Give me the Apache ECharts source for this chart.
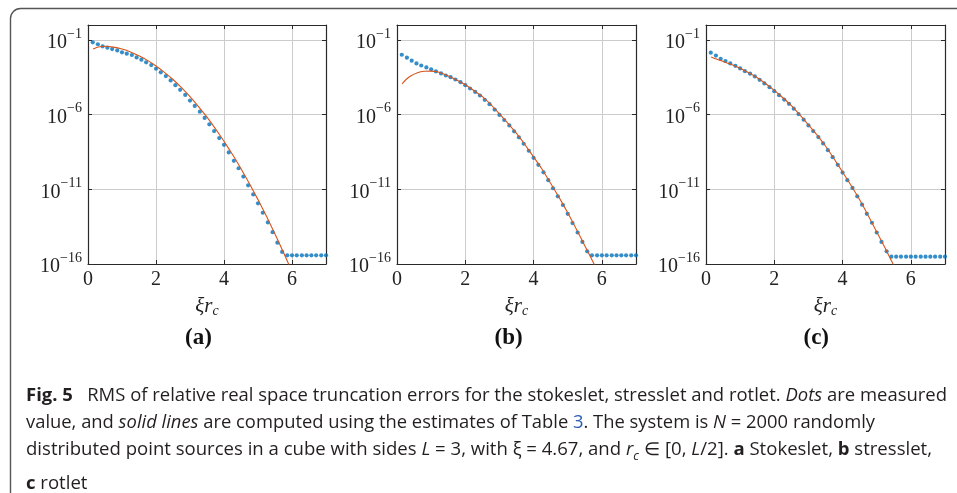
<!DOCTYPE html>
<html>
<head>
<meta charset="utf-8">
<script src="https://cdn.jsdelivr.net/npm/echarts@6/dist/echarts.min.js"></script>
<style>
  html, body { margin: 0; padding: 0; background: #fff; }
  #wrap { position: relative; width: 957px; height: 493px; overflow: hidden; }
  #chart { position: absolute; left: 0; top: 0; width: 957px; height: 493px; }
  #cap {
    position: absolute; left: 26px; top: 381px;
    font-family: "Open Sans", "Noto Sans", sans-serif; font-size: 18px;
    line-height: 27px; color: #231f20; white-space: nowrap;
  }
  #cap .ln { transform-origin: 0 50%; width: max-content; }
  #cap b { font-weight: 700; }
  #cap .lnk { color: #2c5cb8; }
</style>
</head>
<body>
<div id="wrap">
  <div id="chart"></div>
  <div id="cap">
    <div class="ln"><b>Fig. 5</b>&nbsp;&nbsp; RMS of relative real space truncation errors for the stokeslet, stresslet and rotlet. <i>Dots</i> are measured</div>
    <div class="ln">value, and <i>solid lines</i> are computed using the estimates of Table <span class="lnk">3</span>. The system is <i>N</i> = 2000 randomly</div>
    <div class="ln">distributed point sources in a cube with sides <i>L</i> = 3, with ξ = 4.67, and <i>r<sub style="font-size:12px">c</sub></i> ∈ [0, <i>L</i>/2]. <b>a</b> Stokeslet, <b>b</b> stresslet,</div>
    <div class="ln"><b>c</b> rotlet</div>
  </div>
</div>
<script>
// x positions of the measured dots (xi * r_c)
var dotX = [0.14, 0.29, 0.43, 0.57, 0.71, 0.86, 1.0, 1.14, 1.29, 1.43, 1.57, 1.71, 1.86, 2.0,
  2.14, 2.29, 2.43, 2.57, 2.71, 2.86, 3.0, 3.14, 3.29, 3.43, 3.57, 3.71, 3.86, 4.0,
  4.14, 4.29, 4.43, 4.57, 4.71, 4.86, 5.0, 5.14, 5.29, 5.43, 5.57, 5.71, 5.86, 6.0,
  6.14, 6.29, 6.43, 6.57, 6.71, 6.86, 7.0];

// values are stored as log10 exponents
var stokesDots = [-1.16, -1.29, -1.43, -1.52, -1.61, -1.70, -1.83, -1.92, -2.01, -2.17, -2.32, -2.50,
  -2.68, -2.93, -3.17, -3.42, -3.71, -4.03, -4.34, -4.68, -5.06, -5.42, -5.80, -6.22, -6.65,
  -7.10, -7.57, -8.02, -8.53, -9.09, -9.59, -10.15, -10.73, -11.34, -11.94, -12.57, -13.22,
  -13.87, -14.57, -15.19, -15.42, -15.42, -15.42, -15.42, -15.42, -15.42, -15.42, -15.42, -15.42];
var stressDots = [-1.99, -2.19, -2.39, -2.57, -2.71, -2.84, -2.97, -3.11, -3.24, -3.38, -3.49, -3.65,
  -3.83, -4.03, -4.25, -4.48, -4.72, -5.01, -5.30, -5.66, -6.02, -6.36, -6.72, -7.12, -7.52,
  -7.95, -8.42, -8.89, -9.36, -9.86, -10.39, -10.93, -11.47, -12.05, -12.64, -13.26, -13.89,
  -14.52, -15.15, -15.42, -15.42, -15.42, -15.42, -15.42, -15.42, -15.42, -15.42, -15.42, -15.42];
var rotDots = [-1.85, -2.05, -2.26, -2.41, -2.57, -2.73, -2.91, -3.09, -3.26, -3.44, -3.67, -3.91,
  -4.16, -4.43, -4.70, -4.99, -5.28, -5.60, -5.96, -6.34, -6.72, -7.10, -7.50, -7.93, -8.38,
  -8.85, -9.36, -9.88, -10.39, -10.91, -11.47, -12.03, -12.64, -13.24, -13.89, -14.52, -15.15,
  -15.51, -15.51, -15.51, -15.51, -15.51, -15.51, -15.51, -15.51, -15.51, -15.51, -15.51, -15.51];

// estimate curves (solid lines)
var stokesLineX = [0.15, 0.3, 0.5, 0.75, 1.0, 1.25, 1.5, 1.75, 2.0, 2.25, 2.5, 2.75, 3.0, 3.25,
  3.5, 3.75, 4.0, 4.25, 4.5, 4.75, 5.0, 5.25, 5.5, 5.75, 5.9, 5.95];
var stokesLine = [-1.60, -1.47, -1.42, -1.48, -1.61, -1.80, -2.06, -2.37, -2.74, -3.17, -3.65, -4.20,
  -4.80, -5.46, -6.17, -6.95, -7.78, -8.67, -9.62, -10.63, -11.69, -12.81, -13.99, -15.23, -16.0, -16.26];
var stressLineX = [0.15, 0.25, 0.4, 0.6, 0.8, 1.0, 1.2, 1.4, 1.6, 1.8, 2.0, 2.25, 2.5, 2.75, 3.0,
  3.25, 3.5, 3.75, 4.0, 4.25, 4.5, 4.75, 5.0, 5.25, 5.5, 5.75, 5.85];
var stressLine = [-3.94, -3.68, -3.42, -3.20, -3.10, -3.09, -3.15, -3.32, -3.52, -3.75, -4.00, -4.38,
  -4.80, -5.33, -5.95, -6.58, -7.26, -8.02, -8.83, -9.66, -10.60, -11.55, -12.57, -13.65, -14.77,
  -15.90, -16.35];
var rotLineX = [0.15, 0.3, 0.5, 0.75, 1.0, 1.25, 1.5, 1.75, 2.0, 2.25, 2.5, 2.75, 3.0, 3.25, 3.5,
  3.75, 4.0, 4.25, 4.5, 4.75, 5.0, 5.25, 5.5];
var rotLine = [-2.14, -2.28, -2.44, -2.65, -2.90, -3.20, -3.53, -3.93, -4.38, -4.87, -5.40, -6.02,
  -6.68, -7.35, -8.10, -8.95, -9.84, -10.75, -11.70, -12.75, -13.85, -14.95, -16.1];

var panelNames = ['(a)', '(b)', '(c)'];
var xTicks = [0, 2, 4, 6];

var serif = '"Liberation Serif", "DejaVu Serif", serif';
var grids = [
  { left: 88, top: 25, width: 238, height: 239 },
  { left: 397, top: 25, width: 239, height: 239 },
  { left: 706, top: 25, width: 239, height: 239 }
];

function pairs(xs, exps) {
  return xs.map(function (x, i) { return [x, Math.pow(10, exps[i])]; });
}

var dotsAll = [stokesDots, stressDots, rotDots];
var linesAll = [[stokesLineX, stokesLine], [stressLineX, stressLine], [rotLineX, rotLine]];

var xAxes = [], yAxes = [], series = [], graphics = [];
var axisColor = '#2a2a2a';
var gridColor = '#cccccc';

grids.forEach(function (g, i) {
  var xBase = {
    type: 'value', gridIndex: i, min: 0, max: 7, interval: 2,
    axisLine: { show: true, onZero: false, lineStyle: { color: axisColor, width: 1.2 } },
    axisTick: { show: true, inside: true, length: 4, lineStyle: { color: axisColor } }
  };
  xAxes.push(Object.assign({}, xBase, {
    position: 'bottom',
    axisLabel: {
      showMaxLabel: false, margin: 6, fontFamily: serif, fontSize: 20, color: '#222',
      formatter: function (v) { return xTicks.indexOf(v) >= 0 ? String(v) : ''; }
    },
    splitLine: { show: true, lineStyle: { color: gridColor, width: 1 } },
    name: '{i|ξr}{s|c}', nameLocation: 'middle', nameGap: 30,
    nameTextStyle: {
      rich: {
        i: { fontFamily: serif, fontStyle: 'italic', fontSize: 21, color: '#222', lineHeight: 24, verticalAlign: 'middle' },
        s: { fontFamily: serif, fontStyle: 'italic', fontSize: 14, color: '#222', lineHeight: 12, verticalAlign: 'bottom' }
      }
    }
  }));
  xAxes.push(Object.assign({}, xBase, {
    position: 'top', axisLabel: { show: false }, splitLine: { show: false }
  }));

  var yBase = {
    type: 'log', logBase: 10, gridIndex: i, min: 1e-16, max: 1, interval: 5,
    axisLine: { show: true, onZero: false, lineStyle: { color: axisColor, width: 1.2 } },
    axisTick: { show: true, inside: true, length: 4, lineStyle: { color: axisColor } }
  };
  yAxes.push(Object.assign({}, yBase, {
    position: 'left',
    axisLabel: {
      showMaxLabel: false, margin: 6,
      formatter: function (v) {
        var e = Math.round(Math.log(v) / Math.LN10);
        return '{b|10}{s|\u2212' + Math.abs(e) + '}';
      },
      rich: {
        b: { fontFamily: serif, fontSize: 20, color: '#222', lineHeight: 26, verticalAlign: 'bottom' },
        s: { fontFamily: serif, fontSize: 14, color: '#222', lineHeight: 13, verticalAlign: 'top' }
      }
    },
    splitLine: { show: true, lineStyle: { color: gridColor, width: 1 } }
  }));
  yAxes.push(Object.assign({}, yBase, {
    position: 'right', axisLabel: { show: false }, splitLine: { show: false }
  }));

  series.push({
    type: 'scatter', xAxisIndex: 2 * i, yAxisIndex: 2 * i,
    symbol: 'circle', symbolSize: 4.2, z: 3,
    itemStyle: { color: '#0072BD' },
    data: pairs(dotX, dotsAll[i])
  });
  series.push({
    type: 'line', xAxisIndex: 2 * i, yAxisIndex: 2 * i,
    showSymbol: false, smooth: 0.15, clip: true, z: 4,
    lineStyle: { color: '#D95319', width: 1.1 },
    data: pairs(linesAll[i][0], linesAll[i][1])
  });

  graphics.push({
    type: 'text', left: g.left + g.width / 2 - 5 - 17, top: 327,
    style: { text: panelNames[i], font: 'bold 23px ' + serif, fill: '#111' }
  });
});

// rounded frame around the figure
graphics.push({
  type: 'rect', shape: { x: 10.5, y: 8.5, width: 1000, height: 600, r: 10 },
  style: { fill: 'none', stroke: '#555', lineWidth: 1.4 }
});

var myChart = echarts.init(document.getElementById('chart'));
myChart.setOption({
  animation: false,
  grid: grids.map(function (g) { return Object.assign({ containLabel: false }, g); }),
  xAxis: xAxes,
  yAxis: yAxes,
  series: series,
  graphic: graphics
});

// squeeze caption lines to the widths of the reference
var targets = [921, 849, 906];
var lines = document.querySelectorAll('#cap .ln');
var sc = 1;
lines.forEach(function (el, i) {
  var w = el.getBoundingClientRect().width;
  if (targets[i]) sc = targets[i] / w;
  el.style.transform = 'scaleX(' + sc + ')';
});
</script>
</body>
</html>
